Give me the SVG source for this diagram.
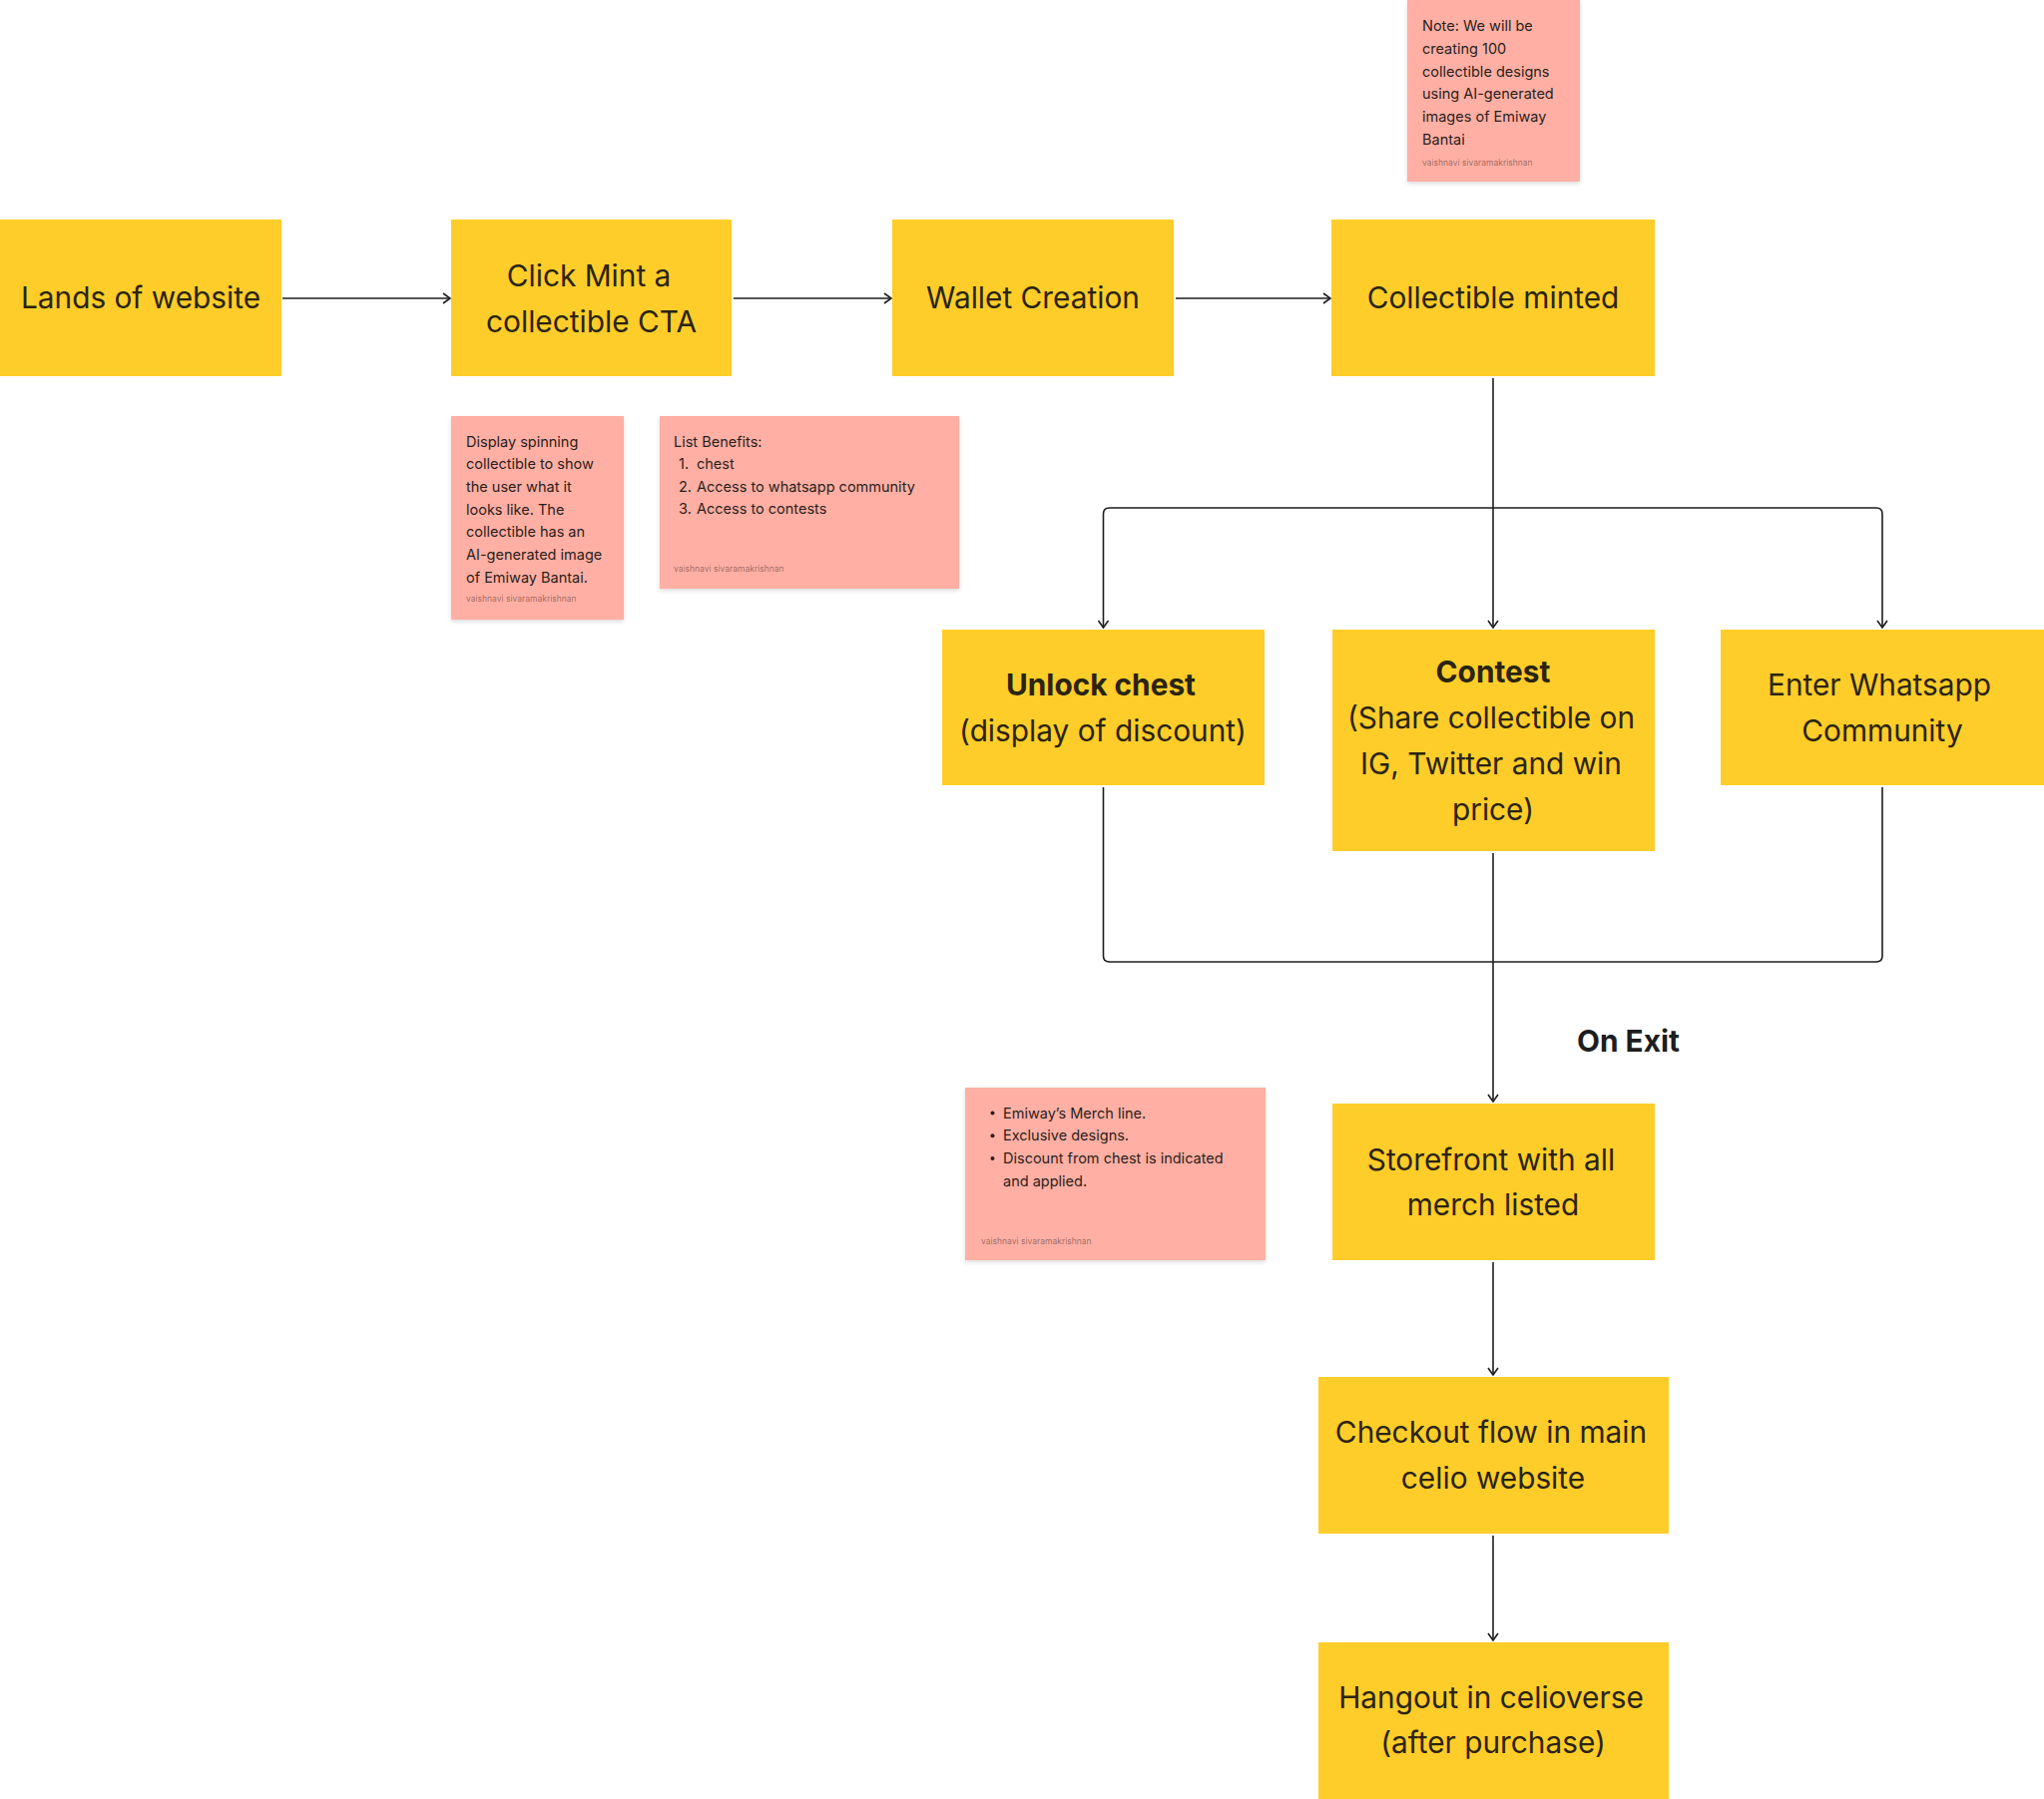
<svg xmlns="http://www.w3.org/2000/svg" width="2048" height="1803" viewBox="0 0 2048 1803">
<style>
.box{fill:#FFCD29;}
.note{fill:#FFAFA3;filter:url(#sh);}
.t{font-family:Inter,"Noto Sans","Liberation Sans",sans-serif;font-size:29.8px;fill:#2a2410;text-anchor:middle;}
.b{font-weight:700;}
.n{font-family:Inter,"Noto Sans","Liberation Sans",sans-serif;font-size:14.5px;fill:#2a1f1d;}
.a{font-family:Inter,"Noto Sans","Liberation Sans",sans-serif;font-size:8.5px;fill:#000;fill-opacity:0.42;}
.c{fill:none;stroke:#1e1e1e;stroke-width:1.6;}
.ar{marker-end:url(#arr);}
</style>
<defs>
<filter id="sh" x="-10%" y="-10%" width="120%" height="125%">
<feDropShadow dx="0" dy="2" stdDeviation="2" flood-color="#000" flood-opacity="0.14"/>
</filter>
<marker id="arr" viewBox="-9 -6 10 12" markerWidth="10" markerHeight="12" refX="0" refY="0" orient="auto" markerUnits="userSpaceOnUse">
<path d="M-7,-5 L0,0 L-7,5" fill="none" stroke="#1e1e1e" stroke-width="1.6"/>
</marker>
</defs>
<rect width="2048" height="1803" fill="#fff"/>

<g id="connectors">
<path class="c ar" d="M283 299 H451"/>
<path class="c ar" d="M735 299 H893"/>
<path class="c ar" d="M1178 299 H1333"/>
<path class="c ar" d="M1496 379 V629"/>
<path class="c ar" d="M1496 509 H1111.5 Q1105.5 509 1105.5 515 V629"/>
<path class="c ar" d="M1496 509 H1880 Q1886 509 1886 515 V629"/>
<path class="c" d="M1105.5 789 V958 Q1105.5 964 1111.5 964 H1496"/>
<path class="c" d="M1886 789 V958 Q1886 964 1880 964 H1496"/>
<path class="c ar" d="M1496 855 V1104"/>
<path class="c ar" d="M1496 1265 V1378"/>
<path class="c ar" d="M1496 1539 V1644"/>
</g>

<g id="n-lands">
<rect class="box" x="0" y="220" width="282" height="157"/>
<text class="t" x="141" y="309">Lands of website</text>
</g>
<g id="n-click">
<rect class="box" x="452" y="220" width="281" height="157"/>
<text class="t" x="590" y="287">Click Mint a</text>
<text class="t" x="592.5" y="333">collectible CTA</text>
</g>
<g id="n-wallet">
<rect class="box" x="894" y="220" width="282" height="157"/>
<text class="t" x="1035" y="309">Wallet Creation</text>
</g>
<g id="n-minted">
<rect class="box" x="1334" y="220" width="324" height="157"/>
<text class="t" x="1496" y="309">Collectible minted</text>
</g>

<g id="n-unlock">
<rect class="box" x="944" y="631" width="323" height="156"/>
<text class="t b" x="1103" y="697">Unlock chest</text>
<text class="t" x="1105" y="743">(display of discount)</text>
</g>
<g id="n-contest">
<rect class="box" x="1335" y="631" width="323" height="222"/>
<text class="t b" x="1496" y="684">Contest</text>
<text class="t" x="1494" y="730">(Share collectible on</text>
<text class="t" x="1494" y="776">IG, Twitter and win</text>
<text class="t" x="1496" y="822">price)</text>
</g>
<g id="n-whatsapp">
<rect class="box" x="1724" y="631" width="324" height="156"/>
<text class="t" x="1883" y="697">Enter Whatsapp</text>
<text class="t" x="1886" y="743">Community</text>
</g>

<g id="n-onexit">
<text class="t b" x="1580" y="1054" style="text-anchor:start;fill:#1e1e1e">On Exit</text>
</g>

<g id="n-store">
<rect class="box" x="1335" y="1106" width="323" height="157"/>
<text class="t" x="1494" y="1173">Storefront with all</text>
<text class="t" x="1496" y="1218">merch listed</text>
</g>
<g id="n-checkout">
<rect class="box" x="1321" y="1380" width="351" height="157"/>
<text class="t" x="1494" y="1446">Checkout flow in main</text>
<text class="t" x="1496" y="1492">celio website</text>
</g>
<g id="n-hangout">
<rect class="box" x="1321" y="1646" width="351" height="160"/>
<text class="t" x="1494" y="1712">Hangout in celioverse</text>
<text class="t" x="1496" y="1757">(after purchase)</text>
</g>

<g id="note-top">
<rect class="note" x="1410" y="0" width="173" height="182"/>
<text class="n" x="1425" y="31">Note: We will be</text>
<text class="n" x="1425" y="53.8">creating 100</text>
<text class="n" x="1425" y="76.6">collectible designs</text>
<text class="n" x="1425" y="99.4">using AI-generated</text>
<text class="n" x="1425" y="122.2">images of Emiway</text>
<text class="n" x="1425" y="145">Bantai</text>
<text class="a" x="1425" y="165.5">vaishnavi sivaramakrishnan</text>
</g>

<g id="note-spin">
<rect class="note" x="452" y="417" width="173" height="204"/>
<text class="n" x="467" y="447.5">Display spinning</text>
<text class="n" x="467" y="470.2">collectible to show</text>
<text class="n" x="467" y="492.9">the user what it</text>
<text class="n" x="467" y="515.6">looks like. The</text>
<text class="n" x="467" y="538.3">collectible has an</text>
<text class="n" x="467" y="561">AI-generated image</text>
<text class="n" x="467" y="583.7">of Emiway Bantai.</text>
<text class="a" x="467" y="603">vaishnavi sivaramakrishnan</text>
</g>

<g id="note-benefits">
<rect class="note" x="661" y="417" width="300" height="173"/>
<text class="n" x="675" y="447.5">List Benefits:</text>
<text class="n" x="680" y="470">1.</text>
<text class="n" x="698" y="470">chest</text>
<text class="n" x="680" y="492.5">2.</text>
<text class="n" x="698" y="492.5">Access to whatsapp community</text>
<text class="n" x="680" y="515">3.</text>
<text class="n" x="698" y="515">Access to contests</text>
<text class="a" x="675" y="572.5">vaishnavi sivaramakrishnan</text>
</g>

<g id="note-merch">
<rect class="note" x="967" y="1090" width="301" height="173"/>
<circle cx="994.5" cy="1115.5" r="2" fill="#2a1f1d"/>
<text class="n" x="1005" y="1120.5">Emiway’s Merch line.</text>
<circle cx="994.5" cy="1138.3" r="2" fill="#2a1f1d"/>
<text class="n" x="1005" y="1143.3">Exclusive designs.</text>
<circle cx="994.5" cy="1161.1" r="2" fill="#2a1f1d"/>
<text class="n" x="1005" y="1166.1">Discount from chest is indicated</text>
<text class="n" x="1005" y="1188.9">and applied.</text>
<text class="a" x="983" y="1246.5">vaishnavi sivaramakrishnan</text>
</g>
</svg>
